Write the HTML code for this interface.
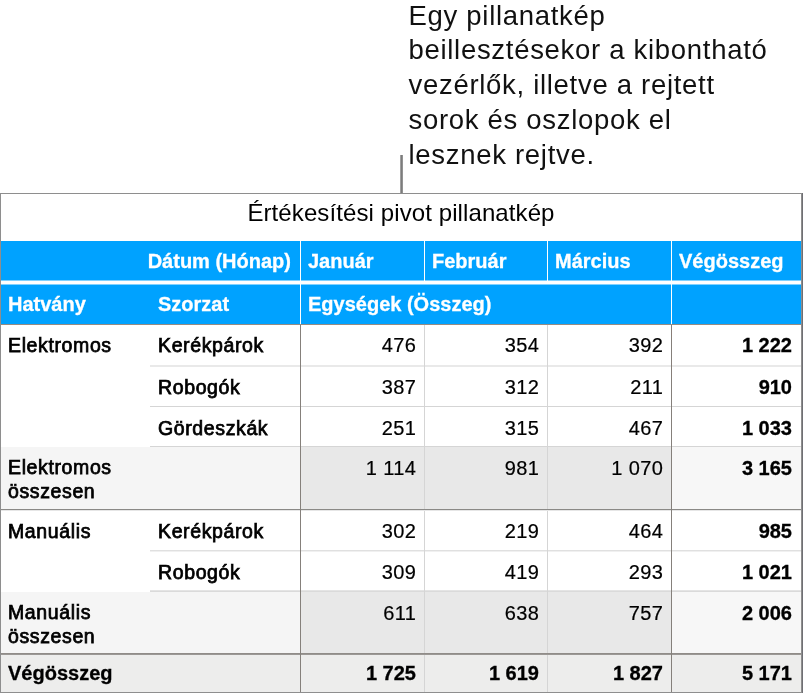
<!DOCTYPE html>
<html lang="hu"><head><meta charset="utf-8"><title>Értékesítési pivot pillanatkép</title><style>
html,body{margin:0;padding:0;background:#fff;}
body{width:804px;height:694px;position:relative;overflow:hidden;font-family:"Liberation Sans",sans-serif;color:#000;}
.a{position:absolute;}
.cap{left:408.5px;top:-1.5px;width:400px;font-size:27.5px;line-height:34.8px;letter-spacing:0.7px;color:#111;white-space:nowrap;}
.t{position:absolute;white-space:nowrap;font-size:20px;line-height:24.2px;}
.m{-webkit-text-stroke:0.75px #000;letter-spacing:0.62px;font-size:19.5px;}
.n{-webkit-text-stroke:0.2px #000;letter-spacing:0.45px;}
.b{font-weight:bold;-webkit-text-stroke:0.3px #000;}
.w{color:#fff;font-weight:bold;-webkit-text-stroke:0.3px #fff;}
.r{text-align:right;}
</style></head><body>
<div class="a cap">Egy pillanatkép<br>beillesztésekor a kibontható<br>vezérlők, illetve a rejtett<br>sorok és oszlopok el<br>lesznek rejtve.</div>
<div class="a" style="left:400px;top:155px;width:1px;height:39px;background:#a0a0a0"></div>
<div class="a" style="left:401px;top:155px;width:1px;height:39px;background:#7c7c7c"></div>
<div class="a" style="left:402px;top:155px;width:1px;height:39px;background:#929292"></div>
<div class="a" style="left:0px;top:193px;width:802.5px;height:500px;background:#8e8e8e"></div>
<div class="a" style="left:801.9px;top:193px;width:1.0px;height:500px;background:#6f6f74"></div>
<div class="a" style="left:1px;top:194px;width:800px;height:498px;background:#fff"></div>
<div class="t" style="left:1px;width:800px;text-align:center;top:198.7px;font-size:24px;line-height:28px;letter-spacing:0.1px;">Értékesítési pivot pillanatkép</div>
<div class="a" style="left:1px;top:241px;width:800px;height:83px;background:#00a2ff"></div>
<div class="a" style="left:1px;top:280px;width:800px;height:5px;background:#80d1ff"></div>
<div class="a" style="left:1px;top:281px;width:800px;height:3px;background:#fff"></div>
<div class="a" style="left:424px;top:241px;width:1px;height:40px;background:#fff"></div>
<div class="a" style="left:547px;top:241px;width:1px;height:40px;background:#fff"></div>
<div class="a" style="left:300px;top:241px;width:1px;height:83px;background:#fff"></div>
<div class="a" style="left:671px;top:241px;width:1px;height:83px;background:#fff"></div>
<div class="a" style="left:1px;top:447px;width:299px;height:62px;background:#f5f5f5"></div>
<div class="a" style="left:300px;top:447px;width:371px;height:62px;background:#e8e8e8"></div>
<div class="a" style="left:671px;top:447px;width:130px;height:62px;background:#f7f7f7"></div>
<div class="a" style="left:1px;top:592px;width:299px;height:62px;background:#f5f5f5"></div>
<div class="a" style="left:300px;top:592px;width:371px;height:62px;background:#e8e8e8"></div>
<div class="a" style="left:671px;top:592px;width:130px;height:62px;background:#f7f7f7"></div>
<div class="a" style="left:1px;top:654px;width:800px;height:38px;background:#ededec"></div>
<div class="a" style="left:150px;top:365px;width:651px;height:2px;background:#e9e9e9"></div>
<div class="a" style="left:150px;top:406px;width:651px;height:1px;background:#d5d5d5"></div>
<div class="a" style="left:150px;top:446px;width:651px;height:1px;background:#d5d5d5"></div>
<div class="a" style="left:150px;top:550px;width:651px;height:1px;background:#e0e0e0"></div>
<div class="a" style="left:150px;top:551px;width:651px;height:1px;background:#f0f0f0"></div>
<div class="a" style="left:150px;top:590px;width:651px;height:1px;background:#e4e4e4"></div>
<div class="a" style="left:150px;top:591px;width:651px;height:1px;background:#dadada"></div>
<div class="a" style="left:424px;top:324px;width:1px;height:368px;background:#d5d5d5"></div>
<div class="a" style="left:547px;top:324px;width:1px;height:368px;background:#d5d5d5"></div>
<div class="a" style="left:1px;top:324px;width:800px;height:1px;background:#958b82"></div>
<div class="a" style="left:1px;top:509px;width:800px;height:1px;background:#8a8986"></div>
<div class="a" style="left:1px;top:510px;width:800px;height:1px;background:#e6e6e6"></div>
<div class="a" style="left:1px;top:653px;width:800px;height:1px;background:#908c88"></div>
<div class="a" style="left:1px;top:654px;width:800px;height:1px;background:#9b9895"></div>
<div class="a" style="left:300px;top:325px;width:1px;height:367px;background:#85807b"></div>
<div class="a" style="left:671px;top:325px;width:1px;height:367px;background:#85807b"></div>
<div class="t r w" style="right:513px;top:249.4px">Dátum (Hónap)</div>
<div class="t w" style="left:308px;top:249.4px">Január</div>
<div class="t w" style="left:432px;top:249.4px">Február</div>
<div class="t w" style="left:555px;top:249.4px">Március</div>
<div class="t w" style="left:679px;top:249.4px">Végösszeg</div>
<div class="t w" style="left:8px;top:292.3px">Hatvány</div>
<div class="t w" style="left:158px;top:292.3px">Szorzat</div>
<div class="t w" style="left:308px;top:292.3px">Egységek (Összeg)</div>
<div class="t m" style="left:8px;top:333.4px">Elektromos</div>
<div class="t m" style="left:158px;top:333.4px">Kerékpárok</div>
<div class="t r n" style="right:387.55px;top:333.4px">476</div>
<div class="t r n" style="right:264.54999999999995px;top:333.4px">354</div>
<div class="t r n" style="right:140.54999999999995px;top:333.4px">392</div>
<div class="t r b" style="right:12px;top:333.4px">1 222</div>
<div class="t m" style="left:158px;top:374.9px">Robogók</div>
<div class="t r n" style="right:387.55px;top:374.9px">387</div>
<div class="t r n" style="right:264.54999999999995px;top:374.9px">312</div>
<div class="t r n" style="right:140.54999999999995px;top:374.9px">211</div>
<div class="t r b" style="right:12px;top:374.9px">910</div>
<div class="t m" style="left:158px;top:415.9px">Gördeszkák</div>
<div class="t r n" style="right:387.55px;top:415.9px">251</div>
<div class="t r n" style="right:264.54999999999995px;top:415.9px">315</div>
<div class="t r n" style="right:140.54999999999995px;top:415.9px">467</div>
<div class="t r b" style="right:12px;top:415.9px">1 033</div>
<div class="t m" style="left:8px;top:455.0px">Elektromos<br>összesen</div>
<div class="t r n" style="right:387.55px;top:455.9px">1 114</div>
<div class="t r n" style="right:264.54999999999995px;top:455.9px">981</div>
<div class="t r n" style="right:140.54999999999995px;top:455.9px">1 070</div>
<div class="t r b" style="right:12px;top:455.9px">3 165</div>
<div class="t m" style="left:8px;top:518.7px">Manuális</div>
<div class="t m" style="left:158px;top:518.7px">Kerékpárok</div>
<div class="t r n" style="right:387.55px;top:518.7px">302</div>
<div class="t r n" style="right:264.54999999999995px;top:518.7px">219</div>
<div class="t r n" style="right:140.54999999999995px;top:518.7px">464</div>
<div class="t r b" style="right:12px;top:518.7px">985</div>
<div class="t m" style="left:158px;top:559.9px">Robogók</div>
<div class="t r n" style="right:387.55px;top:559.9px">309</div>
<div class="t r n" style="right:264.54999999999995px;top:559.9px">419</div>
<div class="t r n" style="right:140.54999999999995px;top:559.9px">293</div>
<div class="t r b" style="right:12px;top:559.9px">1 021</div>
<div class="t m" style="left:8px;top:599.7px">Manuális<br>összesen</div>
<div class="t r n" style="right:387.55px;top:600.6px">611</div>
<div class="t r n" style="right:264.54999999999995px;top:600.6px">638</div>
<div class="t r n" style="right:140.54999999999995px;top:600.6px">757</div>
<div class="t r b" style="right:12px;top:600.6px">2 006</div>
<div class="t b" style="left:8px;top:661.0px">Végösszeg</div>
<div class="t r b" style="right:388px;top:661.0px">1 725</div>
<div class="t r b" style="right:265px;top:661.0px">1 619</div>
<div class="t r b" style="right:141px;top:661.0px">1 827</div>
<div class="t r b" style="right:12px;top:661.0px">5 171</div>
</body></html>
